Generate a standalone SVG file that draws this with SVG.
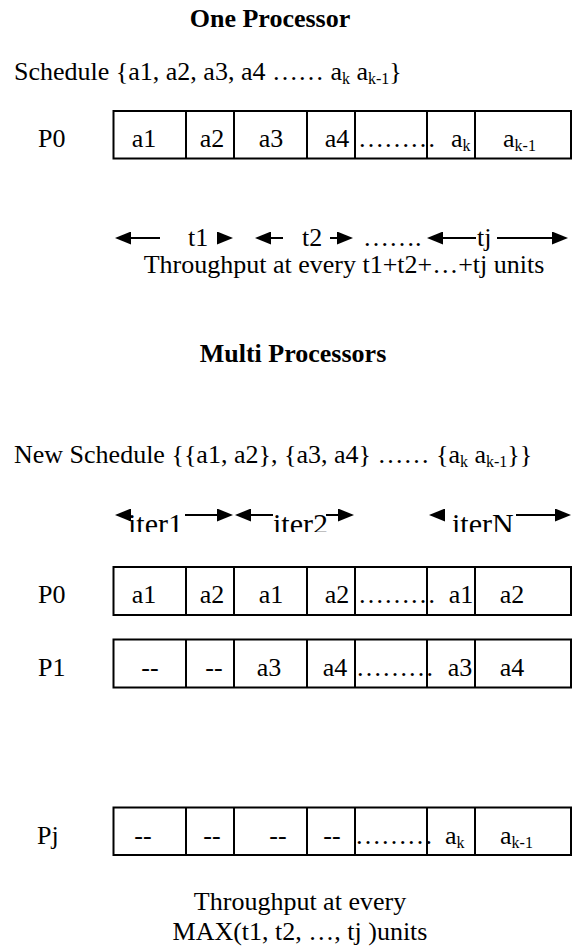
<svg xmlns="http://www.w3.org/2000/svg" width="574" height="949" viewBox="0 0 574 949">
<style>
text{font-family:"Liberation Serif","Times New Roman",serif;font-size:26px;fill:#000}
.b{font-weight:bold}
.m{text-anchor:middle}
.sub{font-size:16px}
.cell{fill:none;stroke:#000;stroke-width:2}
.arr{stroke:#000;stroke-width:2;fill:none;marker-end:url(#ah)}
.it{font-size:30px}
.bt{font-size:26px}
</style>
<defs>
<marker id="ah" markerUnits="userSpaceOnUse" markerWidth="16" markerHeight="13" refX="8" refY="6.5" orient="auto"><path d="M0,0 L16,6.5 L0,13 z" fill="#000"/></marker>
<clipPath id="clipIter"><rect x="0" y="490" width="574" height="42"/></clipPath>
</defs>

<g id="title-one"><text class="b m" x="270" y="27">One Processor</text></g>
<g id="schedule"><text x="14" y="80">Schedule {a1, a2, a3, a4 …… a<tspan class="sub" dy="4">k</tspan><tspan dy="-4"> a</tspan><tspan class="sub" dy="4">k-1</tspan><tspan dy="-4">}</tspan></text></g>

<g id="row-p0-single">
<text x="38" y="147">P0</text>
<rect class="cell" x="113.5" y="111" width="457.5" height="47.5"/>
<path class="cell" d="M186,111V158.5M234,111V158.5M307,111V158.5M355,111V158.5M427,111V158.5M475,111V158.5"/>
<text class="m" x="144" y="147">a1</text>
<text class="m" x="212" y="147">a2</text>
<text class="m" x="271" y="147">a3</text>
<text class="m" x="337" y="147">a4</text>
<text x="358" y="147">………</text>
<text x="451" y="147">a<tspan class="sub" dy="4">k</tspan></text>
<text x="503" y="147">a<tspan class="sub" dy="4">k-1</tspan></text>
</g>

<g id="connectors">
<line class="arr" x1="160" y1="238" x2="123" y2="238"/>
<line class="arr" x1="224" y1="238" x2="225" y2="238"/>
<line class="arr" x1="283" y1="238" x2="263" y2="238"/>
<line class="arr" x1="330" y1="238" x2="345" y2="238"/>
<line class="arr" x1="476" y1="238" x2="435" y2="238"/>
<line class="arr" x1="497" y1="238" x2="560" y2="238"/>
<line class="arr" x1="124" y1="515" x2="123" y2="515"/>
<line class="arr" x1="185" y1="515" x2="225" y2="515"/>
<line class="arr" x1="273" y1="515" x2="243" y2="515"/>
<line class="arr" x1="326" y1="515" x2="346" y2="515"/>
<line class="arr" x1="440" y1="515" x2="437" y2="515"/>
<line class="arr" x1="516" y1="515" x2="563" y2="515"/>
</g>

<g id="time-labels">
<text x="188" y="246">t1</text>
<text x="302" y="246">t2</text>
<text x="363" y="246">…….</text>
<text x="477" y="246">tj</text>
<text class="m" x="344" y="273">Throughput at every t1+t2+…+tj units</text>
</g>

<g id="title-multi"><text class="b m" x="293" y="362">Multi Processors</text></g>
<g id="new-schedule"><text x="14" y="463">New Schedule {{a1, a2}, {a3, a4} …… {a<tspan class="sub" dy="4">k</tspan><tspan dy="-4"> a</tspan><tspan class="sub" dy="4">k-1</tspan><tspan dy="-4">}}</tspan></text></g>

<g id="iter-labels" clip-path="url(#clipIter)">
<text class="it" x="128" y="534">iter1</text>
<text class="it" x="273" y="534">iter2</text>
<text class="it" x="452" y="534">iterN</text>
</g>

<g id="row-p0">
<text x="38" y="603">P0</text>
<rect class="cell" x="113.5" y="567" width="457.5" height="48"/>
<path class="cell" d="M186,567V615M234,567V615M307,567V615M355,567V615M427,567V615M475,567V615"/>
<text class="m" x="144" y="603">a1</text>
<text class="m" x="212" y="603">a2</text>
<text class="m" x="271" y="603">a1</text>
<text class="m" x="337" y="603">a2</text>
<text x="358" y="603">………</text>
<text class="m" x="461" y="603">a1</text>
<text class="m" x="512" y="603">a2</text>
</g>

<g id="row-p1">
<text x="38" y="675.5">P1</text>
<rect class="cell" x="113.5" y="639.5" width="457.5" height="48"/>
<path class="cell" d="M186,639.5V687.5M234,639.5V687.5M307,639.5V687.5M355,639.5V687.5M427,639.5V687.5M475,639.5V687.5"/>
<text class="m" x="150" y="675.5">--</text>
<text class="m" x="214" y="675.5">--</text>
<text class="m" x="269" y="675.5">a3</text>
<text class="m" x="335" y="675.5">a4</text>
<text x="356" y="675.5">………</text>
<text class="m" x="460" y="675.5">a3</text>
<text class="m" x="512" y="675.5">a4</text>
</g>

<g id="row-pj">
<text x="37" y="843.5">Pj</text>
<rect class="cell" x="113.5" y="807.5" width="457.5" height="47.5"/>
<path class="cell" d="M186,807.5V855M234,807.5V855M307,807.5V855M355,807.5V855M427,807.5V855M475,807.5V855"/>
<text class="m" x="143" y="843.5">--</text>
<text class="m" x="212" y="843.5">--</text>
<text class="m" x="278" y="843.5">--</text>
<text class="m" x="332" y="843.5">--</text>
<text x="355" y="843.5">………</text>
<text x="445" y="843.5">a<tspan class="sub" dy="4">k</tspan></text>
<text x="500" y="843.5">a<tspan class="sub" dy="4">k-1</tspan></text>
</g>

<g id="footer">
<text class="bt m" x="300" y="910">Throughput at every</text>
<text class="bt m" x="300" y="940">MAX(t1, t2, …, tj )units</text>
</g>
</svg>
